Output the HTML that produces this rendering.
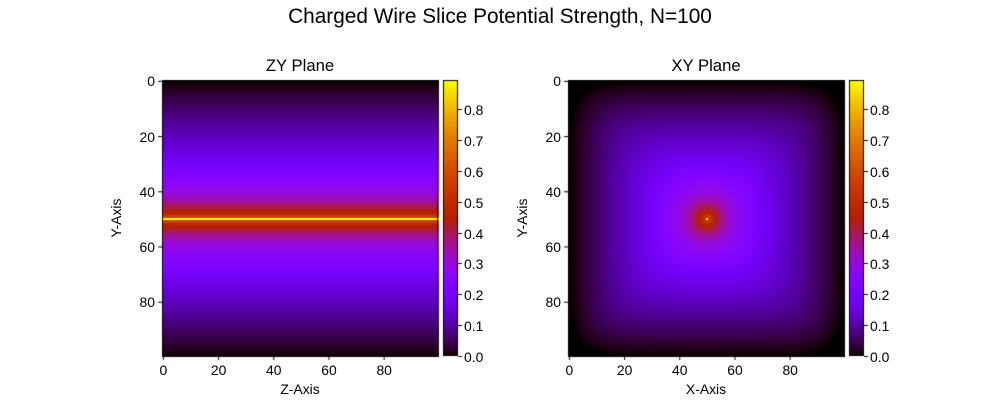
<!DOCTYPE html>
<html><head><meta charset="utf-8"><style>
body{margin:0;background:#fff;}
#wrap{position:relative;width:1000px;height:400px;font-family:"Liberation Sans",sans-serif;color:#000;}
.t{position:absolute;white-space:nowrap;font-size:13.9px;}
canvas{position:absolute;}
</style></head><body>
<div id="wrap">
<div class="t" style="left:0;width:1000px;text-align:center;top:5px;font-size:20.8px;">Charged Wire Slice Potential Strength, N=100</div>
<canvas id="c" width="1000" height="400"></canvas>
<div id="labels"></div>
</div>
<script>
// potential profile vs distance from wire (cells)
const profileDist = [0, 1, 2, 3, 4, 6, 8, 10, 15, 20, 25, 30, 35, 40, 45, 48, 50];
const profileVal  = [0.894, 0.56, 0.47, 0.44, 0.41, 0.36, 0.32, 0.29, 0.24, 0.19, 0.15, 0.12, 0.09, 0.06, 0.03, 0.012, 0.0];
const axisTicks = [0, 20, 40, 60, 80];
const cbarTicks = [0.0, 0.1, 0.2, 0.3, 0.4, 0.5, 0.6, 0.7, 0.8];
const N = 100, vmin = 0, vmax = 0.894;
const panels = [
  {name:'zy', title:'ZY Plane', xlabel:'Z-Axis', left:162, cb:443},
  {name:'xy', title:'XY Plane', xlabel:'X-Axis', left:568, cb:849}
];
const top0 = 80, size = 276, cbw = 15;

function prof(d){
  if(d>=profileDist[profileDist.length-1]) return profileVal[profileVal.length-1];
  for(let i=1;i<profileDist.length;i++){
    if(d<=profileDist[i]){
      const t=(d-profileDist[i-1])/(profileDist[i]-profileDist[i-1]);
      return profileVal[i-1]+t*(profileVal[i]-profileVal[i-1]);
    }
  }
  return 0;
}
function gnuplot(v){
  let x=Math.max(0,Math.min(1,(v-vmin)/(vmax-vmin)));
  const r=Math.sqrt(x), g=x*x*x, b=Math.max(0,Math.sin(2*Math.PI*x));
  return `rgb(${Math.round(r*255)},${Math.round(g*255)},${Math.round(b*255)})`;
}
const c=document.getElementById('c').getContext('2d');
const L=document.getElementById('labels');
function lab(text,x,y,name,extra){
  const d=document.createElement('div');
  d.className='t';d.textContent=text;
  
  
  d.style.cssText=`left:${x}px;top:${y}px;`+(extra||'');
  L.appendChild(d);return d;
}
panels.forEach(p=>{
  const sx=i=>p.left+(i+0.5)*size/N;
  const sy=j=>top0+(j+0.5)*size/N;
  const cw=size/N;
  for(let j=0;j<N;j++)for(let i=0;i<N;i++){
    let v;
    if(p.name==='zy'){v=prof(Math.abs(j-50));}
    else{
      const dx=Math.abs(i-50), dy=Math.abs(j-50);
      const r2=Math.sqrt(dx*dx+dy*dy)/50;
      const pw=2+5*Math.min(1,r2*r2);
      const d=Math.pow(Math.pow(dx,pw)+Math.pow(dy,pw),1/pw);
      v=prof(d+0.5*Math.min(1,r2));
    }
    c.fillStyle=gnuplot(v);
    c.fillRect(Math.floor(sx(i)-cw/2),Math.floor(sy(j)-cw/2),Math.ceil(cw)+1,Math.ceil(cw)+1);
  }
  c.strokeStyle='#000';c.lineWidth=1;
  c.strokeRect(p.left+0.5,top0+0.5,size-1,size-1);
  axisTicks.forEach(t=>{
    const x=sx(t), y=sy(t);
    c.beginPath();c.moveTo(x,top0+size);c.lineTo(x,top0+size+4);c.stroke();
    c.beginPath();c.moveTo(p.left,y);c.lineTo(p.left-4,y);c.stroke();
    lab(String(t),x-20,top0+size+6,'x-tick-'+p.name,'width:40px;text-align:center;');
    lab(String(t),p.left-47,y-8,'y-tick-'+p.name,'width:40px;text-align:right;');
  });
  lab(p.title,p.left,56,p.name+'-title','width:'+size+'px;text-align:center;font-size:16.7px;');
  lab(p.xlabel,p.left,381,'x-axis-title-'+p.name,'width:'+size+'px;text-align:center;');
  lab('Y-Axis',p.left-76,210,'y-axis-title-'+p.name,'width:60px;text-align:center;transform:rotate(-90deg);');
  const cy=v=>top0+size-(v-vmin)/(vmax-vmin)*size;
  for(let k=0;k<size;k++){
    c.fillStyle=gnuplot(vmin+(size-k-0.5)/size*(vmax-vmin));
    c.fillRect(p.cb,top0+k,cbw,1);
  }
  c.strokeRect(p.cb+0.5,top0+0.5,cbw-1,size-1);
  cbarTicks.forEach(t=>{
    const y=Math.round(cy(t))+0.5;
    c.beginPath();c.moveTo(p.cb+cbw,y);c.lineTo(p.cb+cbw+4,y);c.stroke();
    lab(t.toFixed(1),p.cb+cbw+6,y-8,'colorbar-tick-'+p.name);
  });
});
</script>
</body></html>
